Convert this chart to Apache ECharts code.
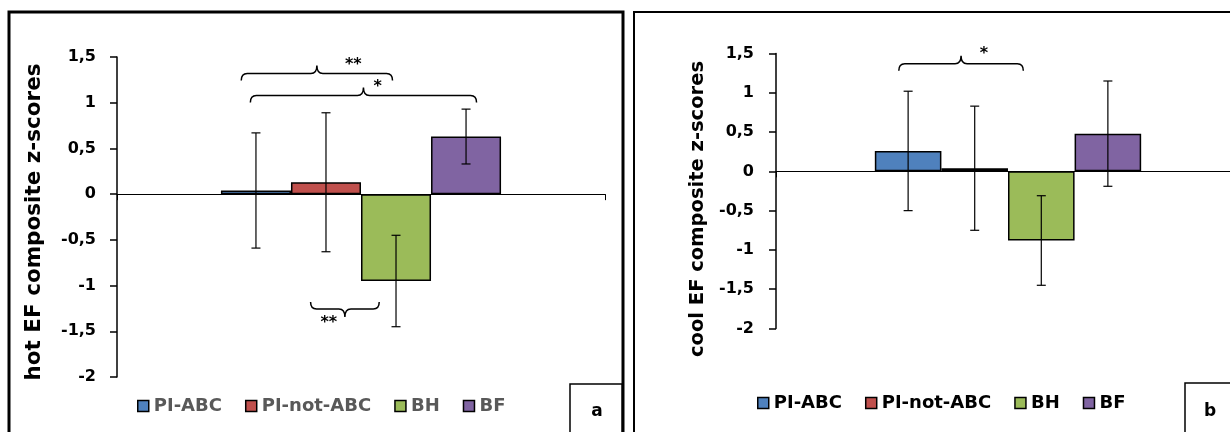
<!DOCTYPE html>
<html>
<head>
<meta charset="utf-8">
<script src="https://cdn.jsdelivr.net/npm/echarts/dist/echarts.min.js"></script>
<style>
  html, body { margin: 0; padding: 0; background: #fff; }
  #chart { width: 1230px; height: 432px; }
</style>
</head>
<body>
<div id="chart"></div>
<script>
// groups (one bar each, side by side)
const groups = ["PI-ABC", "PI-not-ABC", "BH", "BF"];
const groupColors = ["#4F81BD", "#C0504D", "#9BBB59", "#8064A2"];

// panel a: hot EF
const hotMean = [0.04, 0.13, -0.95, 0.63];
const hotErr = [0.63, 0.76, 0.50, 0.30];
// panel b: cool EF
const coolMean = [0.26, 0.04, -0.88, 0.48];
const coolErr = [0.76, 0.79, 0.57, 0.67];

// y axis ticks
const yMin = -2, yMax = 1.5, yStep = 0.5;

// significance braces: [x0, x1 (in bar widths from group centre), y of brace, direction]
const hotBraces = [[-1.71, 0.45, 1.32, 1], [-1.58, 1.65, 1.08, 1], [-0.72, 0.26, -1.255, -1]];
const hotStars = [["**", -0.11, 1.41], ["*", 0.24, 1.17], ["**", -0.46, -1.41]];
const coolBraces = [[-1.64, 0.23, 1.37, 1]];
const coolStars = [["*", -0.36, 1.50]];

const BAR_FRAC = 0.1435;
const FONT = "DejaVu Sans";

const chart = echarts.init(document.getElementById("chart"));

// error bars drawn per group bar
function errorSeries(mean, err, gridIdx) {
  return {
    type: "custom",
    name: "err" + gridIdx,
    xAxisIndex: gridIdx,
    yAxisIndex: gridIdx,
    z: 5,
    silent: true,
    data: mean.map((m, i) => [0, m - err[i], m + err[i], i]),
    renderItem: (params, api) => {
      const lo = api.coord([0, api.value(1)]);
      const hi = api.coord([0, api.value(2)]);
      const bw = api.size([1, 0])[0] * BAR_FRAC;
      const x = lo[0] + (api.value(3) - 1.5) * bw;
      const cap = 4.5;
      const st = { stroke: "#000", lineWidth: 1.2 };
      return {
        type: "group",
        children: [
          { type: "line", shape: { x1: x, y1: lo[1], x2: x, y2: hi[1] }, style: st },
          { type: "line", shape: { x1: x - cap, y1: lo[1], x2: x + cap, y2: lo[1] }, style: st },
          { type: "line", shape: { x1: x - cap, y1: hi[1], x2: x + cap, y2: hi[1] }, style: st },
        ],
      };
    },
  };
}

// curly braces with asterisks
function braceSeries(braces, stars, gridIdx) {
  return {
    type: "custom",
    name: "brace" + gridIdx,
    xAxisIndex: gridIdx,
    yAxisIndex: gridIdx,
    z: 6,
    silent: true,
    clip: false,
    data: braces.map((b, i) => [0, b[2], b[0], b[1], b[3], stars[i][1], stars[i][2]]),
    renderItem: (params, api) => {
      const c = api.coord([0, api.value(1)]);
      const bw = api.size([1, 0])[0] * BAR_FRAC;
      const x0 = c[0] + api.value(2) * bw;
      const x1 = c[0] + api.value(3) * bw;
      const y = c[1];
      const d = api.value(4);
      const xm = (x0 + x1) / 2;
      const tip = 7, peak = 8, r = 6;
      const yt = y + d * tip;
      const yp = y - d * peak;
      const path =
        `M${x0},${yt} Q${x0},${y} ${x0 + r},${y} L${xm - r},${y} ` +
        `Q${xm},${y} ${xm},${yp} Q${xm},${y} ${xm + r},${y} ` +
        `L${x1 - r},${y} Q${x1},${y} ${x1},${yt}`;
      const s = api.coord([0, api.value(6)]);
      return {
        type: "group",
        children: [
          { type: "path", shape: { pathData: path }, style: { fill: null, stroke: "#000", lineWidth: 1.5 } },
          {
            type: "text",
            x: c[0] + api.value(5) * bw,
            y: s[1],
            style: {
              text: stars[params.dataIndex][0],
              font: `bold 16px "${FONT}"`,
              fill: "#000",
              align: "center",
              verticalAlign: "middle",
            },
          },
        ],
      };
    },
  };
}

function barSeries(mean, gridIdx) {
  return groups.map((g, i) => ({
    type: "bar",
    name: g,
    xAxisIndex: gridIdx,
    yAxisIndex: gridIdx,
    barWidth: BAR_FRAC * 100 + "%",
    barGap: "0%",
    itemStyle: { color: groupColors[i], borderColor: "#000", borderWidth: 1.5 },
    data: [mean[i]],
  }));
}

function yAxis(gridIdx, margin) {
  return {
    type: "value",
    gridIndex: gridIdx,
    min: yMin,
    max: yMax,
    interval: yStep,
    axisLine: { show: true, lineStyle: { color: "#000", width: 1.5 } },
    axisTick: { show: true, length: 7, lineStyle: { color: "#000", width: 1.5 } },
    splitLine: { show: false },
    axisLabel: {
      margin: margin,
      fontFamily: FONT,
      fontWeight: "bold",
      fontSize: 16,
      color: "#000",
      formatter: (v) => String(v).replace(".", ","),
    },
  };
}

function xAxis(gridIdx) {
  return {
    type: "category",
    gridIndex: gridIdx,
    data: [""],
    axisLine: { onZero: true, lineStyle: { color: "#000", width: 1 } },
    axisTick: { show: true, length: 6, lineStyle: { color: "#000" } },
    axisLabel: { show: false },
    splitLine: { show: false },
  };
}

function legend(left, top, color) {
  return {
    left: left,
    top: top,
    data: groups,
    icon: "rect",
    itemWidth: 11,
    itemHeight: 11,
    itemGap: 23,
    selectedMode: false,
    itemStyle: { borderColor: "#000", borderWidth: 1.5 },
    textStyle: { fontFamily: FONT, fontWeight: "bold", fontSize: 18, color: color },
  };
}

function title(text, x, y, size) {
  return {
    type: "text",
    x: x,
    y: y,
    rotation: Math.PI / 2,
    style: { text: text, font: `bold ${size}px "${FONT}"`, fill: "#000", align: "center", verticalAlign: "middle" },
  };
}

const option = {
  backgroundColor: "#fff",
  animation: false,
  grid: [
    { left: 117, top: 57, width: 488, height: 320, outerBoundsMode: "none" },
    { left: 776, top: 53.5, width: 464, height: 275, outerBoundsMode: "none" },
  ],
  xAxis: [xAxis(0), xAxis(1)],
  yAxis: [yAxis(0, 21), yAxis(1, 22)],
  legend: [legend(132, 392, "#595959"), legend(752, 389, "#000")],
  series: [
    ...barSeries(hotMean, 0),
    ...barSeries(coolMean, 1),
    errorSeries(hotMean, hotErr, 0),
    errorSeries(coolMean, coolErr, 1),
    braceSeries(hotBraces, hotStars, 0),
    braceSeries(coolBraces, coolStars, 1),
  ],
  graphic: [
    // panel frames
    { type: "rect", shape: { x: 9, y: 12, width: 614, height: 440 }, style: { fill: null, stroke: "#000", lineWidth: 3 } },
    { type: "rect", shape: { x: 634, y: 12, width: 620, height: 440 }, style: { fill: null, stroke: "#000", lineWidth: 2 } },
    // axis titles
    title("hot EF composite z-scores", 34, 222, 21.5),
    title("cool EF composite z-scores", 698, 209, 19.5),
    // panel letters
    { type: "rect", shape: { x: 570, y: 384, width: 52, height: 60 }, style: { fill: "#fff", stroke: "#000", lineWidth: 1.5 } },
    { type: "text", x: 597, y: 412, style: { text: "a", font: `bold 17px "${FONT}"`, fill: "#000", align: "center", verticalAlign: "middle" } },
    { type: "rect", shape: { x: 1185, y: 383, width: 60, height: 60 }, style: { fill: "#fff", stroke: "#000", lineWidth: 1.5 } },
    { type: "text", x: 1210, y: 412, style: { text: "b", font: `bold 17px "${FONT}"`, fill: "#000", align: "center", verticalAlign: "middle" } },
  ],
};

chart.setOption(option);
</script>
</body>
</html>
